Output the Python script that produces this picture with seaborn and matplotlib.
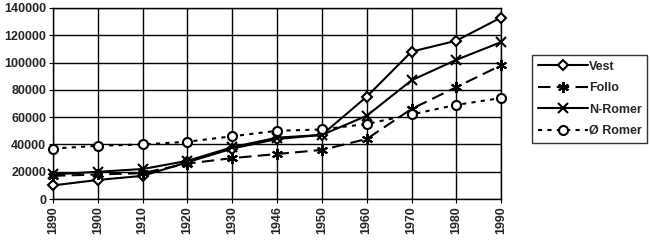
import matplotlib
matplotlib.use("Agg")
import matplotlib.pyplot as plt
import seaborn as sns
import pandas as pd

years = ["1890", "1900", "1910", "1920", "1930", "1946", "1950", "1960", "1970", "1980", "1990"]
vest = [10000, 14000, 17000, 27000, 37000, 44000, 47000, 75000, 108000, 116000, 133000]
follo = [17000, 18000, 19000, 26000, 30000, 33000, 36000, 44000, 66000, 82000, 98000]
n_romer = [18000, 20000, 22000, 28000, 38000, 45000, 47000, 61000, 87000, 102000, 115000]
o_romer = [37000, 39000, 40000, 42000, 46000, 50000, 51000, 55000, 62000, 69000, 74000]
series_names = ["Vest", "Follo", "N-Romer", "Ø Romer"]
yticks = [0, 20000, 40000, 60000, 80000, 100000, 120000, 140000]

sns.set_style("white")
plt.rcParams["font.family"] = ["Liberation Sans", "DejaVu Sans"]

fig = plt.figure(figsize=(6.5, 2.41), dpi=100)
ax = fig.add_axes([0.0815, 0.174, 0.771 - 0.0815, 0.967 - 0.174])

styles = {
    "Vest": dict(marker="D", linestyle="-", markersize=5),
    "Follo": dict(marker=(6, 2, 0), linestyle=(0, (6, 3)), markersize=8),
    "N-Romer": dict(marker="x", linestyle="-", markersize=7),
    "Ø Romer": dict(marker="o", linestyle=(0, (2, 2.5)), markersize=6.5),
}

for name, vals in zip(series_names, [vest, follo, n_romer, o_romer]):
    d = pd.DataFrame({"year": years, "value": vals})
    st = styles[name]
    sns.lineplot(data=d, x="year", y="value", sort=False, ax=ax, color="black",
                 linewidth=1.5, marker=st["marker"], markersize=st["markersize"],
                 linestyle=st["linestyle"], mfc="white", mec="black", mew=1.5,
                 label=name, clip_on=False, zorder=3)

ax.set_xlim(0, len(years) - 1)
ax.set_ylim(0, 140000)
ax.set_yticks(yticks)
ax.set_yticklabels([str(t) for t in yticks], fontsize=9, fontweight="bold")
ax.set_xticks(range(len(years)))
ax.set_xticklabels(years, rotation=90, fontsize=9, fontweight="bold")
ax.set_xlabel("")
ax.set_ylabel("")
ax.grid(True, color="black", linewidth=1)
ax.set_axisbelow(True)
for s in ax.spines.values():
    s.set_color("black")
    s.set_linewidth(1)
ax.tick_params(axis="both", length=3, color="black", direction="out", pad=2,
               bottom=True, left=True)

handles, labels = ax.get_legend_handles_labels()
leg = ax.legend(handles, labels, loc="center left", bbox_to_anchor=(1.069, 0.524),
                frameon=True, fancybox=False, edgecolor="black",
                prop={"size": 9, "weight": "bold"},
                handlelength=4.0, handletextpad=0.1, borderpad=0.45,
                labelspacing=0.75, borderaxespad=0)
leg.get_frame().set_linewidth(1)

fig.savefig("out.png", dpi=100)
